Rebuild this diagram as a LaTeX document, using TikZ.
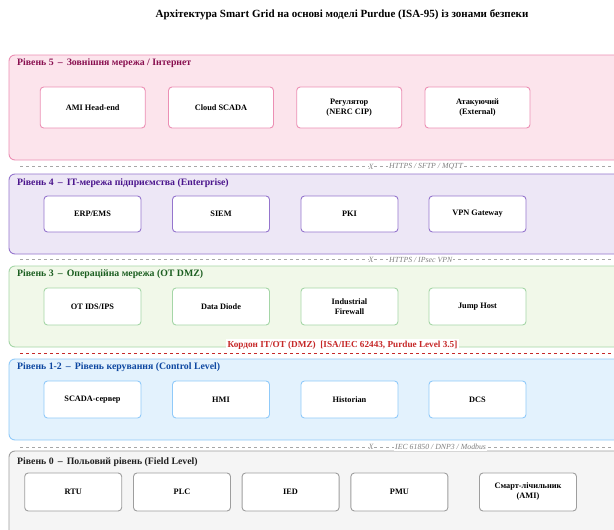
\documentclass[tikz,border=0pt]{standalone}
\usepackage{fontspec}
\setmainfont{Liberation Serif}
\begin{document}
\begin{tikzpicture}[x=1pt,y=-1pt,
  zone/.style={draw=#1, line width=0.9pt, rounded corners=6pt},
  hdr/.style={anchor=west, font=\fontsize{9.8}{11}\selectfont\bfseries, text=#1, inner sep=0pt},
  dev/.style={draw=#1, fill=white, line width=0.9pt, rounded corners=3.5pt, align=center,
     font=\fontsize{8.3}{10}\selectfont\bfseries, inner sep=0pt},
  bline/.style={draw=gray!70, dashed, line width=0.7pt},
  blabel/.style={fill=white, inner sep=1pt, font=\fontsize{7.8}{9}\selectfont\itshape, text=gray, anchor=west},
  xmark/.style={font=\fontsize{8}{9}\selectfont\itshape, text=gray!90, inner sep=0pt, fill=white}
]
\definecolor{z5f}{HTML}{FCE4EC}\definecolor{z5d}{HTML}{EC8FB4}\definecolor{z5t}{HTML}{880E4F}
\definecolor{z4f}{HTML}{EDE7F6}\definecolor{z4d}{HTML}{9575CD}\definecolor{z4t}{HTML}{4A148C}
\definecolor{z3f}{HTML}{F1F8E9}\definecolor{z3d}{HTML}{A5D6A7}\definecolor{z3t}{HTML}{1B5E20}
\definecolor{z2f}{HTML}{E3F2FD}\definecolor{z2d}{HTML}{90CAF9}\definecolor{z2t}{HTML}{0D47A1}
\definecolor{z0f}{HTML}{F5F5F5}\definecolor{z0d}{HTML}{9E9E9E}\definecolor{z0t}{HTML}{212121}
\definecolor{dmz}{HTML}{C62828}
\useasboundingbox (0,0) rectangle (614,530);
\clip (0,0) rectangle (614,530);
\fill[white] (0,0) rectangle (614,530);

\node[font=\fontsize{11}{13}\selectfont\bfseries] (title) at (342,15)
  {Архітектура Smart Grid на основі моделі Purdue (ISA-95) із зонами безпеки};

% zones
\draw[zone=z5d, fill=z5f] (9,55) rectangle (640,160);
\draw[zone=z4d, fill=z4f] (9,174) rectangle (640,254);
\draw[zone=z3d, fill=z3f] (9,266) rectangle (640,347);
\draw[zone=z2d, fill=z2f] (9,359) rectangle (640,440);
\draw[zone=z0d, fill=z0f] (9,451) rectangle (640,560);

\node[hdr=z5t] (h5) at (17,63) {Рівень 5 \,–\, Зовнішня мережа / Інтернет};
\node[hdr=z4t] (h4) at (17,183) {Рівень 4 \,–\, IT-мережа підприємства (Enterprise)};
\node[hdr=z3t] (h3) at (17,274) {Рівень 3 \,–\, Операційна мережа (OT DMZ)};
\node[hdr=z2t] (h2) at (17,367) {Рівень 1-2 \,–\, Рівень керування (Control Level)};
\node[hdr=z0t] (h0) at (17,462) {Рівень 0 \,–\, Польовий рівень (Field Level)};

% level 5
\foreach \n/\x/\t in {a5/92.7/{AMI Head-end}, b5/221/{Cloud SCADA}, c5/349.2/{Регулятор\\(NERC CIP)}, d5/477.5/{Атакуючий\\(External)}}
  \node[dev=z5d, minimum width=105pt, minimum height=41pt] (\n) at (\x,107.5) {\t};
% level 4
\foreach \n/\x/\t in {a4/92.5/{ERP/EMS}, b4/221/{SIEM}, c4/349.5/{PKI}, d4/477.5/{VPN Gateway}}
  \node[dev=z4d, minimum width=97pt, minimum height=36pt] (\n) at (\x,214) {\t};
% level 3
\foreach \n/\x/\t in {a3/92.5/{OT IDS/IPS}, b3/221/{Data Diode}, c3/349.5/{Industrial\\Firewall}, d3/477.5/{Jump Host}}
  \node[dev=z3d, minimum width=97pt, minimum height=37pt] (\n) at (\x,306.5) {\t};
% level 1-2
\foreach \n/\x/\t in {a2/92.5/{SCADA-сервер}, b2/221/{HMI}, c2/349.5/{Historian}, d2/477.5/{DCS}}
  \node[dev=z2d, minimum width=97pt, minimum height=37pt] (\n) at (\x,399.5) {\t};
% level 0
\foreach \n/\x/\t in {a0/73.2/{RTU}, b0/182/{PLC}, c0/290.6/{IED}, d0/399.4/{PMU}, e0/528/{Смарт-лічильник\\(AMI)}}
  \node[dev=z0d, minimum width=97pt, minimum height=38pt] (\n) at (\x,492) {\t};

% boundaries
\coordinate (l1a) at (20,166.5); \coordinate (l1b) at (614,166.5);
\coordinate (l2a) at (20,259.5); \coordinate (l2b) at (614,259.5);
\coordinate (l3a) at (20,353.5); \coordinate (l3b) at (614,353.5);
\coordinate (l4a) at (20,447);   \coordinate (l4b) at (614,447);
\draw[bline] (l1a) -- (l1b);
\draw[bline] (l2a) -- (l2b);
\draw[draw=dmz, dashed, line width=1.2pt] (l3a) -- (l3b);
\draw[bline] (l4a) -- (l4b);

\node[xmark] (x1) at (371,166.5) {X};
\node[blabel] (t1) at (388,166.5) {HTTPS / SFTP / MQTT};
\node[xmark] (x2) at (371,259.5) {X};
\node[blabel] (t2) at (388,259.5) {HTTPS / IPsec VPN};
\node[xmark] (x3) at (371,447) {X};
\node[blabel] (t3) at (394,447) {IEC 61850 / DNP3 / Modbus};

\node[fill=white, inner sep=1.5pt, text=dmz, font=\fontsize{9.2}{11}\selectfont\bfseries] (dmzl) at (342.5,345)
  {Кордон IT/OT (DMZ) \ [ISA/IEC 62443, Purdue Level 3.5]};
\end{tikzpicture}
\end{document}
